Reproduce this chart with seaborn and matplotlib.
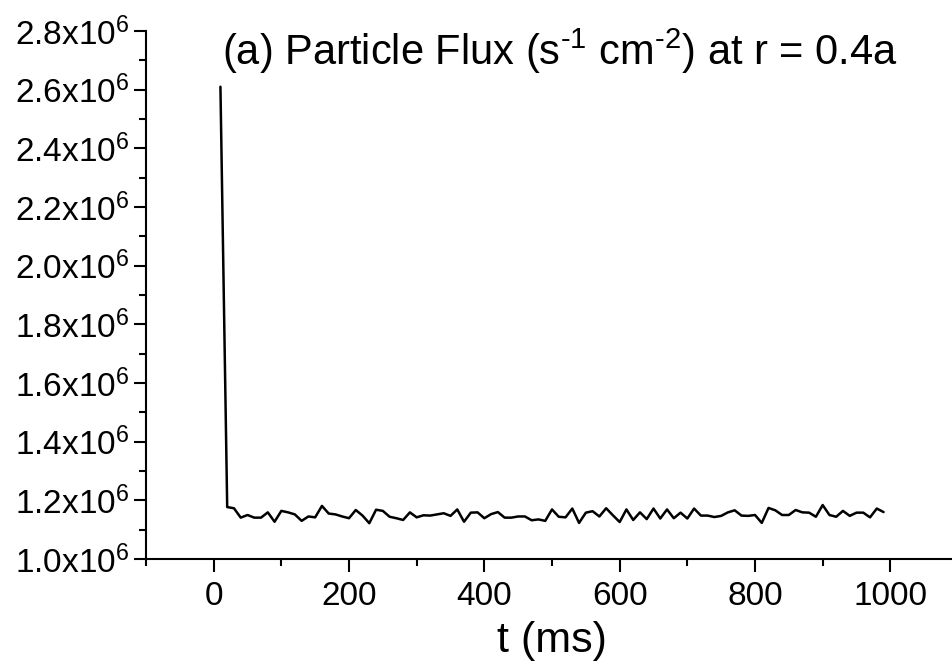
import numpy as np
import pandas as pd
import matplotlib
matplotlib.use("Agg")
import matplotlib.pyplot as plt
import seaborn as sns
from matplotlib.ticker import MultipleLocator, FuncFormatter

# time samples (ms)
t_ms = [10, 20, 30, 40, 50, 60, 70, 80, 90, 100,
        110, 120, 130, 140, 150, 160, 170, 180, 190, 200,
        210, 220, 230, 240, 250, 260, 270, 280, 290, 300,
        310, 320, 330, 340, 350, 360, 370, 380, 390, 400,
        410, 420, 430, 440, 450, 460, 470, 480, 490, 500,
        510, 520, 530, 540, 550, 560, 570, 580, 590, 600,
        610, 620, 630, 640, 650, 660, 670, 680, 690, 700,
        710, 720, 730, 740, 750, 760, 770, 780, 790, 800,
        810, 820, 830, 840, 850, 860, 870, 880, 890, 900,
        910, 920, 930, 940, 950, 960, 970, 980, 990]

# particle flux, in units of 1e6 s^-1 cm^-2
flux_1e6 = [2.610, 1.177, 1.173, 1.141, 1.150, 1.141, 1.141, 1.159, 1.127, 1.164,
            1.159, 1.152, 1.130, 1.145, 1.142, 1.181, 1.155, 1.152, 1.145, 1.139,
            1.167, 1.148, 1.122, 1.168, 1.164, 1.144, 1.139, 1.133, 1.159, 1.142,
            1.149, 1.148, 1.152, 1.156, 1.147, 1.169, 1.127, 1.158, 1.159, 1.139,
            1.153, 1.160, 1.141, 1.141, 1.145, 1.145, 1.132, 1.135, 1.130, 1.169,
            1.144, 1.142, 1.172, 1.123, 1.158, 1.163, 1.145, 1.173, 1.149, 1.126,
            1.169, 1.133, 1.159, 1.136, 1.172, 1.138, 1.169, 1.139, 1.158, 1.138,
            1.172, 1.148, 1.148, 1.143, 1.147, 1.159, 1.166, 1.148, 1.147, 1.150,
            1.123, 1.174, 1.166, 1.150, 1.150, 1.167, 1.159, 1.158, 1.144, 1.184,
            1.150, 1.144, 1.164, 1.147, 1.158, 1.158, 1.142, 1.172, 1.160]

df = pd.DataFrame({"t": t_ms, "flux": np.array(flux_1e6) * 1e6})

sns.set_theme(style="ticks")
plt.rcParams["font.family"] = ["Liberation Sans", "DejaVu Sans"]
plt.rcParams["mathtext.fontset"] = "custom"
plt.rcParams["mathtext.rm"] = "Liberation Sans"
plt.rcParams["mathtext.it"] = "Liberation Sans:italic"
plt.rcParams["mathtext.bf"] = "Liberation Sans:bold"
plt.rcParams["text.color"] = "black"
plt.rcParams["axes.labelcolor"] = "black"

fig = plt.figure(figsize=(9.53, 6.64), dpi=100)
ax = fig.add_axes([146 / 953, 1 - 559 / 664, (958 - 146) / 953, (559 - 31) / 664])

sns.lineplot(data=df, x="t", y="flux", color="black", linewidth=1.8, ax=ax)

ax.set_xlim(-100, 1100)
ax.set_ylim(1.0e6, 2.8e6)

ax.xaxis.set_major_locator(MultipleLocator(200))
ax.xaxis.set_minor_locator(MultipleLocator(100))
ax.yaxis.set_major_locator(MultipleLocator(0.2e6))
ax.yaxis.set_minor_locator(MultipleLocator(0.1e6))
ax.yaxis.set_major_formatter(FuncFormatter(lambda v, p: f"{v / 1e6:.1f}x10$^{{6}}$"))

ax.tick_params(which="major", length=9, width=1.5, labelsize=24,
               color="black", labelcolor="black")
ax.tick_params(which="minor", length=5, width=1.5, color="black")
ax.tick_params(axis="y", which="major", pad=3)
ax.tick_params(axis="x", which="major", pad=7)
for s in ["left", "bottom"]:
    ax.spines[s].set_linewidth(1.5)
    ax.spines[s].set_color("black")
sns.despine(ax=ax)

ax.set_xlabel("t (ms)", fontsize=31, labelpad=6)
ax.set_ylabel("")

fig.text(560 / 953, 1 - 65 / 664, "(a) Particle Flux (s$^{\u20101}$ cm$^{\u20102}$) at r = 0.4a",
         fontsize=30, ha="center", va="baseline")

fig.savefig("out.png", dpi=100)
